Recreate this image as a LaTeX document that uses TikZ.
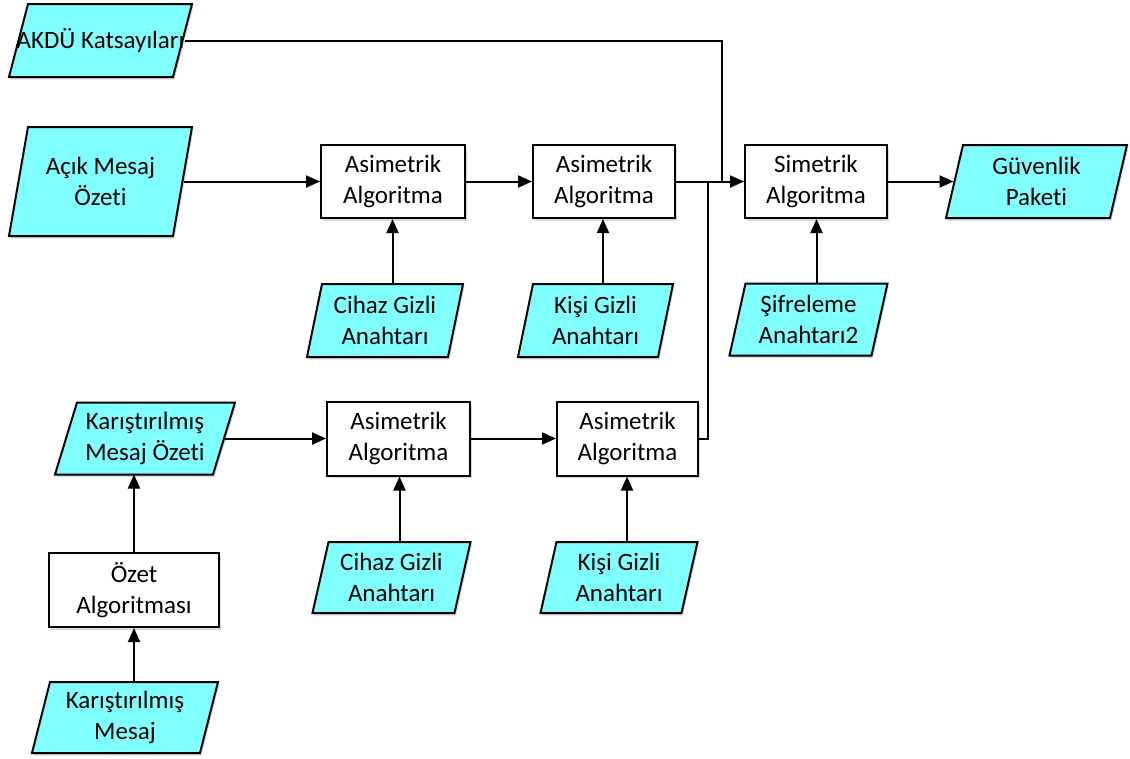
\documentclass[tikz,border=0pt]{standalone}
\usepackage{fontspec}
\setmainfont{Carlito}[Ligatures=NoCommon]
\usetikzlibrary{arrows.meta}
\definecolor{iofill}{RGB}{128,255,255}
\definecolor{shadowcol}{RGB}{120,120,120}

% data shape: name, cx, cy, half width, half height, slant, text
\newcommand{\ioshape}[7]{%
  \fill[shadowcol,opacity=.28,shift={(1.5,2.5)}]
    ({#2-#4+#6/2},{#3-#5}) -- ({#2+#4+#6/2},{#3-#5}) --
    ({#2+#4-#6/2},{#3+#5}) -- ({#2-#4-#6/2},{#3+#5}) -- cycle;
  \filldraw[fill=iofill,draw=black,line join=miter]
    ({#2-#4+#6/2},{#3-#5}) -- ({#2+#4+#6/2},{#3-#5}) --
    ({#2+#4-#6/2},{#3+#5}) -- ({#2-#4-#6/2},{#3+#5}) -- cycle;
  \node[txt,minimum width={2*#4},minimum height={2*#5}] (#1) at (#2,#3) {#7};
  \coordinate (#1-top) at ({#2+#6/2},{#3-#5});
  \coordinate (#1-bot) at ({#2-#6/2},{#3+#5});
}
% process box: name, cx, cy, width, height, text
\newcommand{\procbox}[6]{%
  \fill[shadowcol,opacity=.28]
    ({#2-#4/2+1.5},{#3-#5/2+2.5}) rectangle ({#2+#4/2+1.5},{#3+#5/2+2.5});
  \node[txt,draw,fill=white,minimum width=#4,minimum height=#5] (#1) at (#2,#3) {#6};
}

\begin{document}
\begin{tikzpicture}[x=1pt,y=-1pt,line width=2pt,
  txt/.style={inner sep=0pt,align=center,font=\fontsize{25}{31}\selectfont},
  conn/.style={line width=2pt},
  arr/.style={conn,-{Triangle[length=14pt,width=12pt]}}]
\useasboundingbox (0,0) rectangle (1130,758);

% inputs and outputs
\ioshape{akdu}{100.5}{40.5}{82}{36.5}{19}{AKDÜ Katsayıları}
\ioshape{acik}{100.5}{181.5}{82}{54.5}{19}{Açık Mesaj\\Özeti}
\ioshape{cihazA}{385}{320.5}{70.5}{36.5}{15}{Cihaz Gizli\\Anahtarı}
\ioshape{kisiA}{595.5}{320.5}{70}{36.5}{15}{Kişi Gizli\\Anahtarı}
\ioshape{sifre}{808.5}{319.5}{71}{36}{16}{Şifreleme\\Anahtarı2}
\ioshape{guven}{1036.5}{181.5}{82}{36.5}{17}{Güvenlik\\Paketi}
\ioshape{kmo}{145}{438.5}{79}{36}{22}{Karıştırılmış\\Mesaj Özeti}
\ioshape{cihazB}{391.5}{577.5}{71}{35.5}{16}{Cihaz Gizli\\Anahtarı}
\ioshape{kisiB}{619}{577.5}{70.5}{35.5}{16}{Kişi Gizli\\Anahtarı}
\ioshape{km}{125}{717.5}{84}{35.5}{18}{Karıştırılmış\\Mesaj}

% processing steps
\procbox{a1}{393}{181.5}{144}{73}{Asimetrik\\Algoritma}
\procbox{a2}{604}{181.5}{142}{73}{Asimetrik\\Algoritma}
\procbox{sim}{816}{181.5}{142}{73}{Simetrik\\Algoritma}
\procbox{b1}{398.5}{438.5}{143}{74}{Asimetrik\\Algoritma}
\procbox{b2}{627.5}{438.5}{141}{74}{Asimetrik\\Algoritma}
\procbox{ozet}{134}{590}{170}{74}{Özet\\Algoritması}

% junctions on the line into the symmetric step
\coordinate (jA) at (722,181.5);
\coordinate (jB) at (708,181.5);

% connectors
\draw[conn] (akdu.east) -| (jA);
\draw[arr] (acik.east) -- (a1.west);
\draw[arr] (a1.east) -- (a2.west);
\draw[arr] (a2.east) -- (sim.west);
\draw[arr] (sim.east) -- (guven.west);
\draw[arr] (cihazA-top) -- (cihazA-top |- a1.south);
\draw[arr] (kisiA-top) -- (kisiA-top |- a2.south);
\draw[arr] (sifre-top) -- (sifre-top |- sim.south);
\draw[arr] (kmo.east) -- (b1.west);
\draw[arr] (b1.east) -- (b2.west);
\draw[conn] (b2.east) -| (jB);
\draw[arr] (cihazB-top) -- (cihazB-top |- b1.south);
\draw[arr] (kisiB-top) -- (kisiB-top |- b2.south);
\draw[arr] (ozet.north) -- (ozet.north |- kmo-bot);
\draw[arr] (km-top) -- (km-top |- ozet.south);
\end{tikzpicture}
\end{document}
